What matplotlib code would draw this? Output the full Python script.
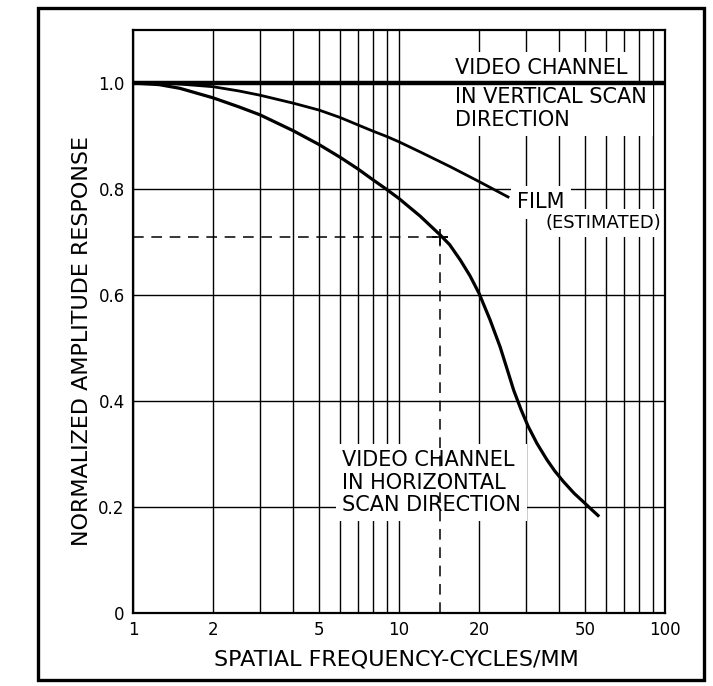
import matplotlib.pyplot as plt
from matplotlib.ticker import FixedLocator, NullFormatter
from matplotlib.patches import Rectangle

# Video channel, horizontal scan direction
horiz_x = [1, 1.25, 1.5, 2, 2.5, 3, 4, 5, 6, 7, 8, 9, 10, 12, 14.3, 15.5, 17, 18.5, 20, 22,
           24, 25.5, 27, 28.8, 30.6, 33, 36, 38.5, 41.5, 45.5, 50, 53, 56]
horiz_y = [1.0, 0.997, 0.990, 0.972, 0.955, 0.940, 0.910, 0.884, 0.860, 0.838, 0.817,
           0.799, 0.782, 0.749, 0.713, 0.695, 0.666, 0.636, 0.603, 0.553, 0.502, 0.460,
           0.420, 0.383, 0.352, 0.320, 0.289, 0.268, 0.248, 0.226, 0.207, 0.195, 0.184]

# Film (estimated)
film_x = [1, 1.25, 1.5, 2, 2.5, 3, 4, 5, 6, 7, 8, 9, 10, 12, 15.6, 20, 25.7]
film_y = [1.0, 1.0, 0.998, 0.993, 0.985, 0.977, 0.962, 0.949, 0.935, 0.921, 0.909, 0.899,
          0.889, 0.870, 0.842, 0.814, 0.785]

# Video channel, vertical scan direction
vert_x = [1, 100]
vert_y = [1.0, 1.0]

# 0.71 response marker
cutoff_x = 14.3
cutoff_y = 0.71
dash_h_x = [1, 15.3]
dash_v_y = [0, 0.725]

x_ticks = [1, 2, 5, 10, 20, 50, 100]
x_tick_labels = ['1', '2', '5', '10', '20', '50', '100']
x_grid = [2, 3, 4, 5, 6, 7, 8, 9, 10, 20, 30, 40, 50, 60, 70, 80, 90]
y_ticks = [0, 0.2, 0.4, 0.6, 0.8, 1.0]
y_tick_labels = ['0', '0.2', '0.4', '0.6', '0.8', '1.0']

plt.rcParams['font.family'] = ['DejaVu Sans']

fig = plt.figure(figsize=(7.13, 6.86), dpi=100)
ax = fig.add_axes([133 / 713, 1 - 613 / 686, 532 / 713, 583 / 686])

ax.set_xscale('log')
ax.set_xlim(1, 100)
ax.set_ylim(0, 1.1)

# grid lines like the printed graph paper
ax.set_xticks(x_ticks, x_tick_labels)
ax.xaxis.set_minor_locator(FixedLocator(x_grid))
ax.xaxis.set_minor_formatter(NullFormatter())
ax.set_yticks(y_ticks, y_tick_labels)
ax.grid(True, which='both', axis='x', color='black', lw=1.0, zorder=0)
ax.grid(True, which='major', axis='y', color='black', lw=1.0, zorder=0)
ax.set_axisbelow(True)
ax.tick_params(which='both', length=0, labelsize=12, pad=6)
for s in ax.spines.values():
    s.set_linewidth(1.6)

# curves
ax.plot(vert_x, vert_y, color='black', lw=3.2, zorder=4, solid_capstyle='butt')
ax.plot(horiz_x, horiz_y, color='black', lw=2.3, zorder=4)
ax.plot(film_x, film_y, color='black', lw=2.0, zorder=4)

# dashed guide lines at the 0.71 point
ax.plot(dash_h_x, [cutoff_y, cutoff_y], color='black', lw=1.1, ls=(0, (7, 5)), zorder=3)
ax.plot([cutoff_x, cutoff_x], dash_v_y, color='black', lw=1.1, ls=(0, (7, 5)), zorder=3)
ax.plot([cutoff_x], [cutoff_y], marker='+', ms=12, mew=1.2, color='black', zorder=4)

box = dict(facecolor='white', edgecolor='none', boxstyle='square,pad=0.3')
ax.text(16.2, 1.028, 'VIDEO CHANNEL', fontsize=15, va='center', ha='left', bbox=box, zorder=2)
ax.text(16.2, 0.952, 'IN VERTICAL SCAN\nDIRECTION', fontsize=15, va='center', ha='left',
        linespacing=1.15, bbox=box, zorder=2)
ax.text(27.8, 0.775, 'FILM', fontsize=15, va='center', ha='left', bbox=box, zorder=2)
ax.text(35.4, 0.736, '(ESTIMATED)', fontsize=13, va='center', ha='left', bbox=box, zorder=2)
ax.text(6.1, 0.246, 'VIDEO CHANNEL\nIN HORIZONTAL\nSCAN DIRECTION', fontsize=15,
        va='center', ha='left', linespacing=1.15, bbox=box, zorder=2)

fig.text(396 / 713, 1 - 660 / 686, 'SPATIAL FREQUENCY-CYCLES/MM', fontsize=16,
         ha='center', va='center')
fig.text(82 / 713, 1 - 341 / 686, 'NORMALIZED AMPLITUDE RESPONSE', fontsize=16,
         ha='center', va='center', rotation=90)

# outer frame round the whole figure
fig.patches.append(Rectangle((38 / 713, 1 - 680 / 686), 666 / 713, 672 / 686,
                             transform=fig.transFigure, fill=False, lw=2.4,
                             edgecolor='black'))

fig.savefig('out.png', dpi=100)
